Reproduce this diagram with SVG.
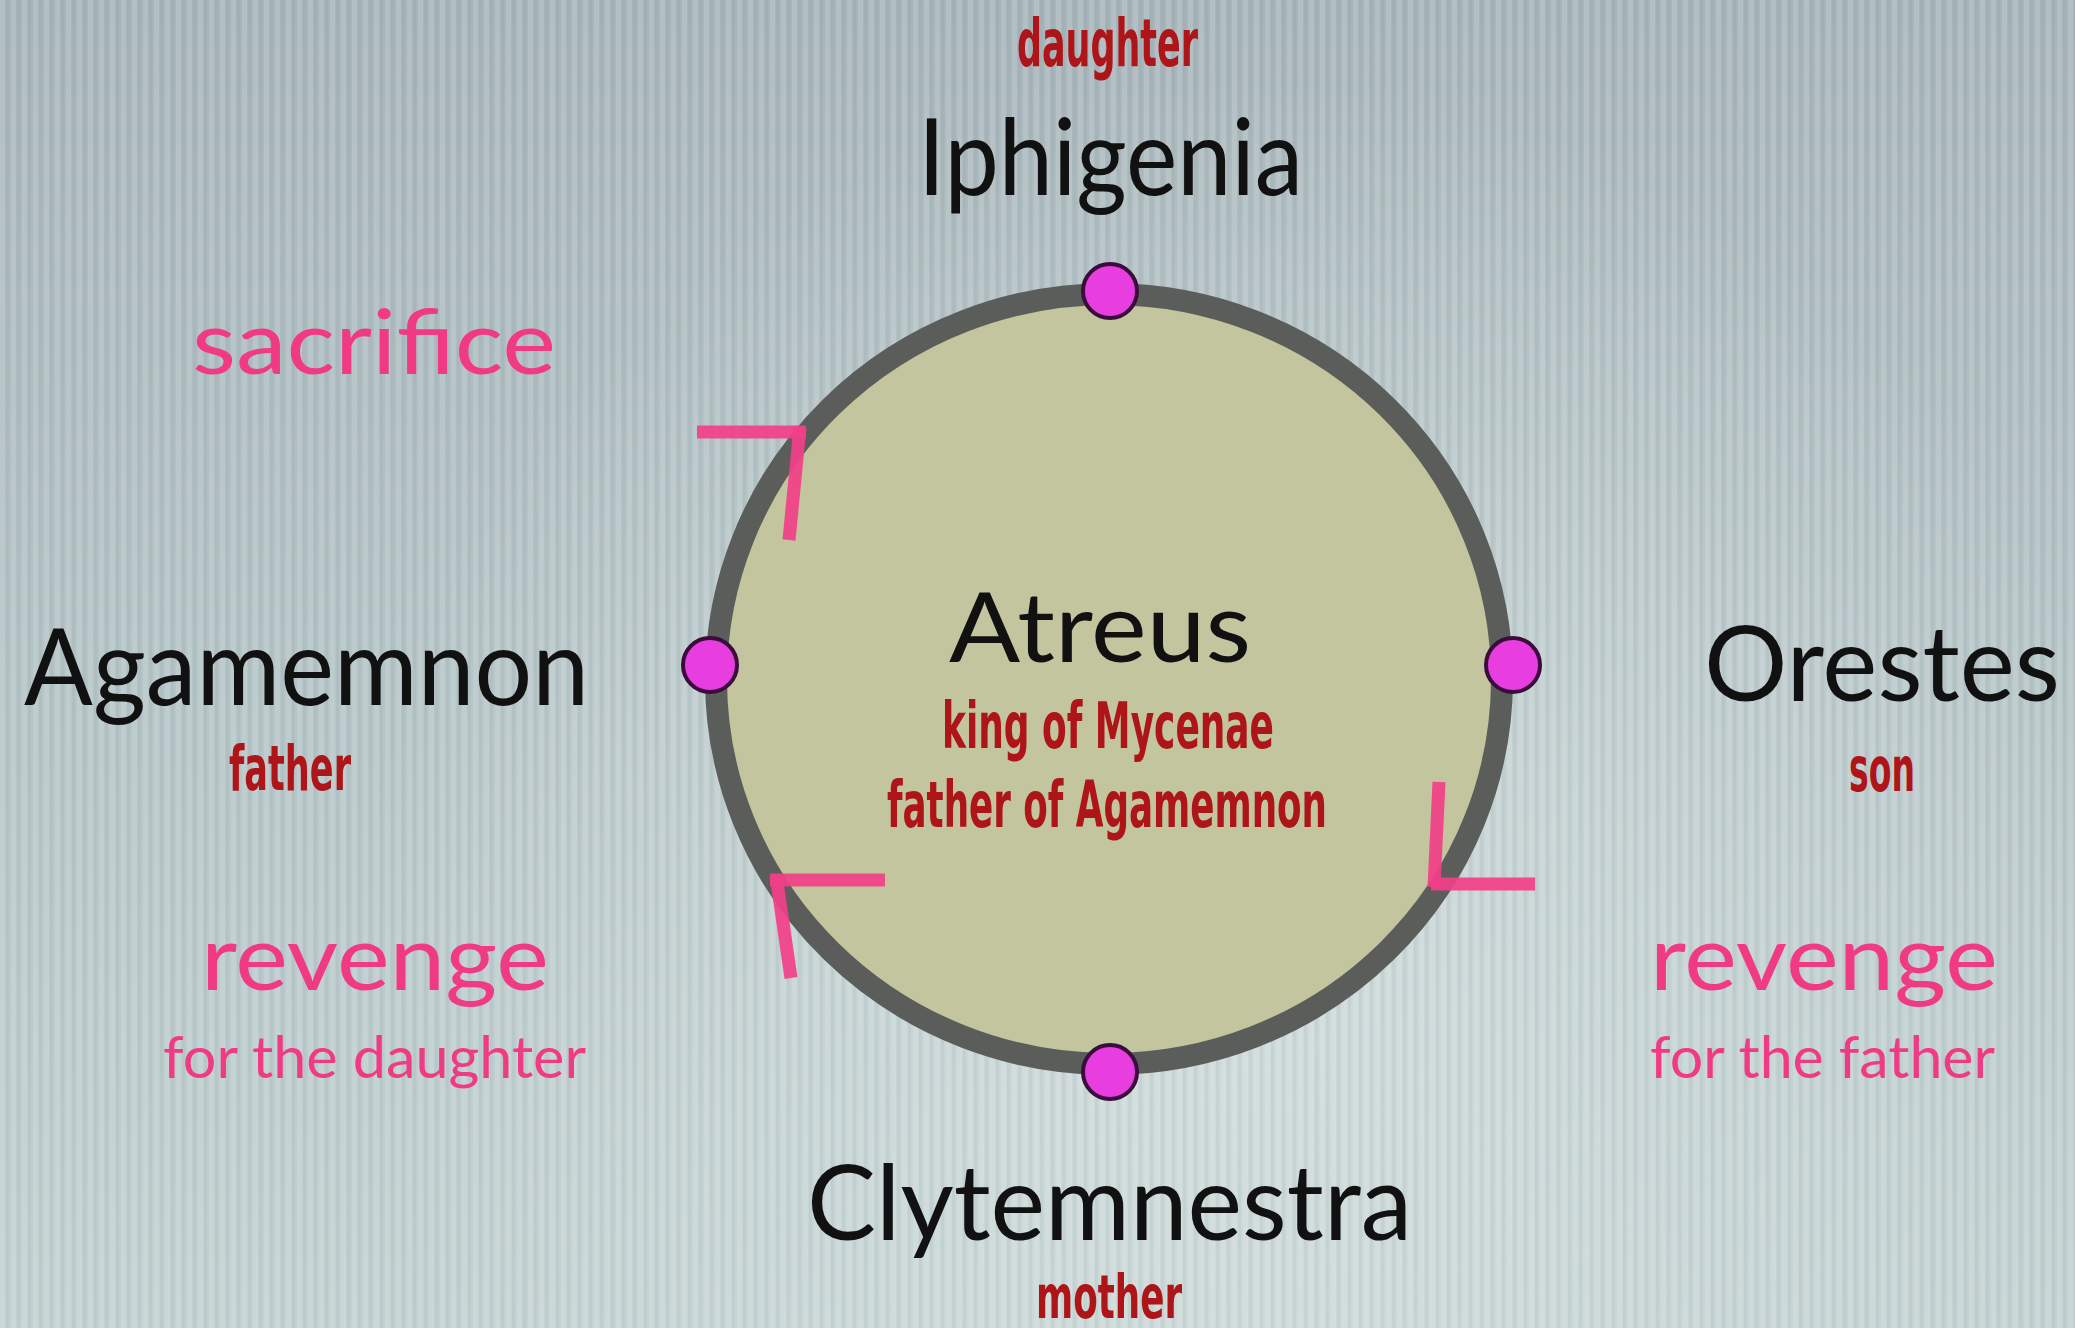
<svg xmlns="http://www.w3.org/2000/svg" width="2075" height="1328" viewBox="0 0 2075 1328">
  <defs>
    <linearGradient id="bg" x1="0" y1="0" x2="0" y2="1">
      <stop offset="0" stop-color="#a7b5ba"/>
      <stop offset="0.55" stop-color="#b6c5c7"/>
      <stop offset="1" stop-color="#c2d2d1"/>
    </linearGradient>
    <radialGradient id="glow" cx="1250" cy="980" r="900" gradientUnits="userSpaceOnUse">
      <stop offset="0" stop-color="#dfe8e6" stop-opacity="0.55"/>
      <stop offset="1" stop-color="#dfe8e6" stop-opacity="0"/>
    </radialGradient>
    <pattern id="stripes" x="0" y="0" width="11" height="20" patternUnits="userSpaceOnUse">
      <rect x="0" y="0" width="5" height="20" fill="#ffffff" fill-opacity="0.13"/>
      <rect x="6" y="0" width="3" height="20" fill="#5a6a70" fill-opacity="0.06"/>
    </pattern>
  </defs>
  <style>
    .name { font-family: Lato, "Open Sans", "Liberation Sans", sans-serif; fill: #111111; font-weight: 400; }
    .role { font-family: "Liberation Sans Narrow", "DejaVu Sans Condensed", "Liberation Sans", sans-serif; font-weight: 700; fill: #ad1519; }
    .act { font-family: Lato, "Open Sans", "Liberation Sans", sans-serif; fill: #f03a84; }
    .dot { fill: #e83ee0; stroke: #3a0c3c; stroke-width: 4; }
    .ring { fill: none; stroke: #5b5d5a; stroke-width: 22; }
    .mark { fill: none; stroke: #f23f88; stroke-width: 13; stroke-linecap: butt; stroke-opacity: 0.92; }
  </style>

  <rect x="0" y="0" width="2075" height="1328" fill="url(#bg)"/>
  <rect x="0" y="0" width="2075" height="1328" fill="url(#glow)"/>
  <rect x="0" y="0" width="2075" height="1328" fill="url(#stripes)"/>

  <g id="atreus">
    <ellipse cx="1109" cy="679" rx="393" ry="385" fill="#c3c59e"/>
    <text class="name" x="949" y="662" font-size="96" textLength="302" lengthAdjust="spacingAndGlyphs">Atreus</text>
    <text class="role" x="942" y="748" font-size="64" textLength="332" lengthAdjust="spacingAndGlyphs">king of Mycenae</text>
    <text class="role" x="887" y="827" font-size="64" textLength="440" lengthAdjust="spacingAndGlyphs">father of Agamemnon</text>
  </g>

  <g id="connectors">
    <ellipse class="ring" cx="1109" cy="679" rx="393" ry="385"/>
    <g id="arrow-sacrifice">
      <line class="mark" x1="697" y1="432" x2="806" y2="432"/>
      <line class="mark" x1="800" y1="427" x2="789" y2="540"/>
    </g>
    <g id="arrow-revenge-daughter">
      <line class="mark" x1="770" y1="880" x2="885" y2="880"/>
      <line class="mark" x1="776" y1="875" x2="791" y2="978"/>
    </g>
    <g id="arrow-revenge-father">
      <line class="mark" x1="1439" y1="782" x2="1434" y2="887"/>
      <line class="mark" x1="1431" y1="884" x2="1535" y2="884"/>
    </g>
    <text class="act" x="192" y="374" font-size="90" textLength="364" lengthAdjust="spacingAndGlyphs">sacrifice</text>
    <text class="act" x="201" y="990" font-size="92" textLength="348" lengthAdjust="spacingAndGlyphs">revenge</text>
    <text class="act" x="163" y="1078" font-size="58" textLength="423" lengthAdjust="spacingAndGlyphs">for the daughter</text>
    <text class="act" x="1650" y="990" font-size="92" textLength="348" lengthAdjust="spacingAndGlyphs">revenge</text>
    <text class="act" x="1650" y="1078" font-size="58" textLength="345" lengthAdjust="spacingAndGlyphs">for the father</text>
  </g>

  <g id="iphigenia">
    <circle class="dot" cx="1110" cy="291" r="27"/>
    <text class="role" x="1017" y="66" font-size="66" textLength="181" lengthAdjust="spacingAndGlyphs">daughter</text>
    <text class="name" x="918" y="195" font-size="106" textLength="385" lengthAdjust="spacingAndGlyphs">Iphigenia</text>
  </g>

  <g id="agamemnon">
    <circle class="dot" cx="710" cy="665" r="27"/>
    <text class="name" x="24" y="705" font-size="106" textLength="565" lengthAdjust="spacingAndGlyphs">Agamemnon</text>
    <text class="role" x="229" y="790" font-size="62" textLength="122" lengthAdjust="spacingAndGlyphs">father</text>
  </g>

  <g id="orestes">
    <circle class="dot" cx="1513" cy="665" r="27"/>
    <text class="name" x="1704" y="701" font-size="104" textLength="356" lengthAdjust="spacingAndGlyphs">Orestes</text>
    <text class="role" x="1849" y="791" font-size="62" textLength="66" lengthAdjust="spacingAndGlyphs">son</text>
  </g>

  <g id="clytemnestra">
    <circle class="dot" cx="1110" cy="1072" r="27"/>
    <text class="name" x="807" y="1240" font-size="104" textLength="605" lengthAdjust="spacingAndGlyphs">Clytemnestra</text>
    <text class="role" x="1036" y="1318" font-size="60" textLength="146" lengthAdjust="spacingAndGlyphs">mother</text>
  </g>
</svg>
